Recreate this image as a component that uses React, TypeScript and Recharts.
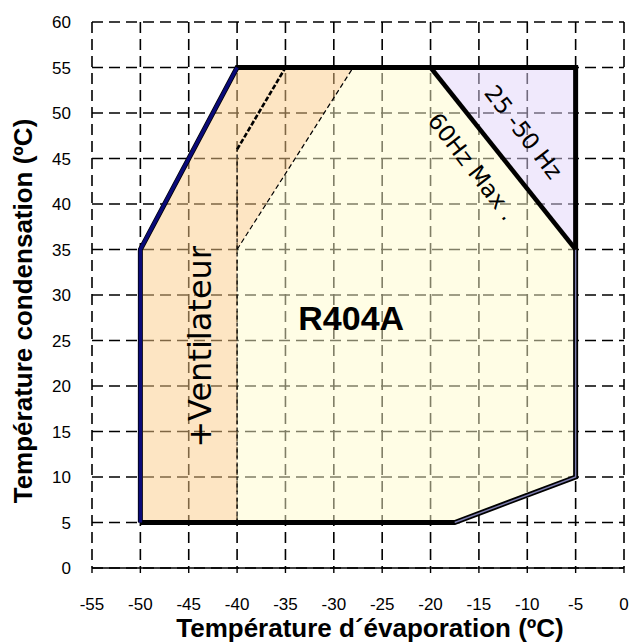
import {
  ComposedChart,
  Area,
  Line,
  XAxis,
  YAxis,
  CartesianGrid,
  ReferenceDot,
  Label,
} from "recharts"

const xTicks = [-55, -50, -45, -40, -35, -30, -25, -20, -15, -10, -5, 0]
const yTicks = [0, 5, 10, 15, 20, 25, 30, 35, 40, 45, 50, 55, 60]

// filled zones, r = [lower, upper] condensation temp
const mainZone = [
  { x: -40, r: [5, 35] },
  { x: -28, r: [5, 55] },
  { x: -20, r: [5, 55] },
  { x: -17.5, r: [5, 51.7] },
  { x: -5, r: [10, 35] },
]
const fanZone = [
  { x: -50, r: [5, 35] },
  { x: -40, r: [5, 55] },
  { x: -40, r: [35, 55] },
  { x: -28, r: [55, 55] },
]
const vfdZone = [
  { x: -20, r: [55, 55] },
  { x: -5, r: [35, 55] },
]

// outlines
const envelope = [
  { x: -50, y: 5 },
  { x: -50, y: 35 },
  { x: -40, y: 55 },
  { x: -5, y: 55 },
  { x: -5, y: 10 },
  { x: -17.5, y: 5 },
  { x: -50, y: 5 },
]
const envelopeLeft = [
  { x: -50, y: 5 },
  { x: -50, y: 35 },
  { x: -40, y: 55 },
]
const envelopeRight = [
  { x: -5, y: 35 },
  { x: -5, y: 10 },
  { x: -17.5, y: 5 },
]
const maxLine = [
  { x: -20, y: 55 },
  { x: -5, y: 35 },
]
const fanEdge = [
  { x: -40, y: 5 },
  { x: -40, y: 46 },
]
const fanDiag = [
  { x: -40, y: 35 },
  { x: -28, y: 55 },
]
const fanDiagHeavy = [
  { x: -40, y: 46 },
  { x: -35, y: 55 },
]

const notes = [
  { key: "gas", x: -28.2, y: 27.5, text: "R404A" },
  { key: "fan", x: -43.8, y: 24.3, text: "+Ventilateur" },
  { key: "vfd", x: -10.4, y: 47.9, text: "25 -50 Hz" },
  { key: "max", x: -15.7, y: 44.1, text: "60Hz Max ." },
]

const arial = "'Liberation Sans', Arial, sans-serif"
const dejavu = "'DejaVu Sans', Verdana, sans-serif"

const noteStyle: Record<string, any> = {
  gas: { angle: 0, fontSize: 34, fontWeight: 700, fontFamily: arial },
  fan: { angle: -90, fontSize: 32, fontWeight: 400, fontFamily: dejavu },
  vfd: { angle: 52.4, fontSize: 23, fontWeight: 400, fontFamily: dejavu },
  max: { angle: 52.4, fontSize: 23, fontWeight: 400, fontFamily: dejavu },
}

function seg(data: { x: number; y: number }[], key: string, stroke: string, width: number, dash?: string) {
  return (
    <Line
      key={key}
      data={data}
      dataKey="y"
      type="linear"
      stroke={stroke}
      strokeWidth={width}
      strokeDasharray={dash}
      strokeLinejoin="miter"
      dot={false}
      activeDot={false}
      legendType="none"
      isAnimationActive={false}
    />
  )
}

export default function App() {
  return (
    <div style={{ position: "absolute", left: 0, top: 0 }}>
      <ComposedChart width={630} height={644} margin={{ top: 22, right: 6, bottom: 0, left: 0 }}>
        <CartesianGrid stroke="#000" strokeOpacity={1} strokeWidth={1.6} strokeDasharray="11 6" />
        <XAxis
          type="number"
          dataKey="x"
          domain={[-55, 0]}
          ticks={xTicks}
          allowDataOverflow
          height={76}
          tick={{ fill: "#000", fontSize: 17, fontFamily: arial }}
          axisLine={{ stroke: "#000", strokeWidth: 1.6 }}
          tickLine={{ stroke: "#000", strokeWidth: 1.4 }}
          tickSize={5}
          tickMargin={25}
        >
          <Label
            content={(p: any) => {
              const vb = p.viewBox
              return (
                <text
                  x={vb.x + vb.width / 2 + 12}
                  y={vb.y + 69}
                  textAnchor="middle"
                  fontFamily={arial}
                  fontWeight={700}
                  fontSize={26}
                  fill="#000"
                >
                  Température d´évaporation (ºC)
                </text>
              )
            }}
          />
        </XAxis>
        <YAxis
          type="number"
          domain={[0, 60]}
          ticks={yTicks}
          allowDataOverflow
          width={92}
          tick={{ fill: "#000", fontSize: 17, fontFamily: arial }}
          axisLine={false}
          tickLine={false}
          tickSize={0}
          tickMargin={21}
        >
          <Label
            content={(p: any) => {
              const vb = p.viewBox
              const cx = vb.x + 23
              const cy = vb.y + vb.height / 2 + 16
              return (
                <text
                  x={cx}
                  y={cy}
                  transform={`rotate(-90 ${cx} ${cy})`}
                  textAnchor="middle"
                  dominantBaseline="central"
                  fontFamily={arial}
                  fontWeight={700}
                  fontSize={26}
                  fill="#000"
                >
                  Température condensation  (ºC)
                </text>
              )
            }}
          />
        </YAxis>

        <Area data={mainZone} dataKey="r" type="linear" stroke="none" fill="#FFFBCB" fillOpacity={0.5} dot={false} activeDot={false} legendType="none" isAnimationActive={false} />
        <Area data={fanZone} dataKey="r" type="linear" stroke="none" fill="#FBCB88" fillOpacity={0.5} dot={false} activeDot={false} legendType="none" isAnimationActive={false} />
        <Area data={vfdZone} dataKey="r" type="linear" stroke="none" fill="#E2D4F9" fillOpacity={0.5} dot={false} activeDot={false} legendType="none" isAnimationActive={false} />

        {seg(fanEdge, "fanEdge", "#000", 1.2, "4 3")}
        {seg(fanDiag, "fanDiag", "#000", 1.2, "5 3")}
        {seg(fanDiagHeavy, "fanDiagHeavy", "#000", 2.6, "5 2")}
        {seg(envelope, "envelope", "#000", 5)}
        {seg(envelopeLeft, "envelopeLeft", "#0A0A78", 3.5)}
        {seg(envelopeRight, "envelopeRight", "#7B7BAE", 1.4)}
        {seg(maxLine, "maxLine", "#000", 4.5)}

        {notes.map((n) => (
          <ReferenceDot
            key={n.key}
            x={n.x}
            y={n.y}
            r={0}
            shape={(p: any) => {
              const s = noteStyle[n.key]
              return (
                <text
                  x={p.cx}
                  y={p.cy}
                  transform={`rotate(${s.angle} ${p.cx} ${p.cy})`}
                  textAnchor="middle"
                  dominantBaseline="central"
                  fontFamily={s.fontFamily}
                  fontWeight={s.fontWeight}
                  fontSize={s.fontSize}
                  fill="#000"
                >
                  {n.text}
                </text>
              )
            }}
          />
        ))}
      </ComposedChart>
    </div>
  )
}
